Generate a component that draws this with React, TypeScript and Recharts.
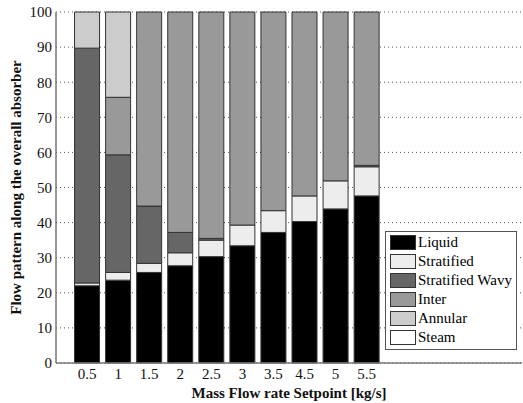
import React from 'react';
import { BarChart, Bar, XAxis, YAxis, CartesianGrid, Legend } from 'recharts';

const categories = ['0.5', '1', '1.5', '2', '2.5', '3', '3.5', '4.5', '5', '5.5'];
const liquid = [22.0, 23.6, 25.8, 27.7, 30.3, 33.4, 37.2, 40.3, 43.9, 47.6];
const stratified = [0.8, 2.2, 2.6, 3.7, 4.7, 5.9, 6.2, 7.3, 8.0, 8.3];
const stratifiedWavy = [66.9, 33.5, 16.3, 5.8, 0.5, 0, 0, 0, 0, 0.4];
const inter = [0, 16.4, 55.3, 62.8, 64.5, 60.7, 56.6, 52.4, 48.1, 43.7];
const annular = [10.3, 24.3, 0, 0, 0, 0, 0, 0, 0, 0];
const steam = [0, 0, 0, 0, 0, 0, 0, 0, 0, 0];
const yTicks = [0, 10, 20, 30, 40, 50, 60, 70, 80, 90, 100];

const series = [
  { key: 'liquid', name: 'Liquid', color: '#000000', values: liquid },
  { key: 'stratified', name: 'Stratified', color: '#ededed', values: stratified },
  { key: 'stratifiedWavy', name: 'Stratified Wavy', color: '#666666', values: stratifiedWavy },
  { key: 'inter', name: 'Inter', color: '#999999', values: inter },
  { key: 'annular', name: 'Annular', color: '#cccccc', values: annular },
  { key: 'steam', name: 'Steam', color: '#ffffff', values: steam },
];

const data = categories.map((c, i) => {
  const row: any = { x: i + 1, label: c };
  series.forEach((s) => {
    row[s.key] = s.values[i];
  });
  return row;
});

const FONT = '"Liberation Serif", "Times New Roman", serif';

const LegendBox = () => (
  <div
    style={{
      border: '1px solid #555',
      background: '#fff',
      padding: '1px 0 2px 4px',
      fontFamily: FONT,
      fontSize: 15,
      color: '#000',
      width: 126,
      height: 114,
      boxSizing: 'content-box',
      whiteSpace: 'nowrap',
    }}
  >
    {series.map((s) => (
      <div key={s.key} style={{ display: 'flex', alignItems: 'center', height: 19 }}>
        <div
          style={{
            width: 24,
            height: 13,
            background: s.color,
            border: '1px solid #333',
            marginRight: 2,
            flexShrink: 0,
          }}
        />
        <span>{s.name}</span>
      </div>
    ))}
  </div>
);

export default function App() {
  return (
    <div style={{ position: 'absolute', left: 0, top: 0, width: 523, height: 403, background: '#fff' }}>
      <BarChart
        width={523}
        height={403}
        data={data}
        margin={{ top: 12, right: 1, bottom: 0, left: 0 }}
        style={{ fontFamily: FONT }}
      >
        <CartesianGrid
          horizontal={true}
          vertical={false}
          stroke="#555"
          strokeDasharray="1 3"
        />
        <XAxis
          dataKey="x"
          type="number"
          domain={[0, 15]}
          ticks={[1, 2, 3, 4, 5, 6, 7, 8, 9, 10]}
          tickFormatter={(v: number) => categories[v - 1] ?? ''}
          interval={0}
          height={40}
          tickSize={3}
          tickMargin={2}
          tickLine={false}
          axisLine={{ stroke: '#777', strokeWidth: 1.5 }}
          tick={{ fontSize: 15, fill: '#111', fontFamily: FONT }}
          label={{
            value: 'Mass Flow rate Setpoint [kg/s]',
            position: 'insideBottom',
            offset: 5,
            style: { fontSize: 15, fontWeight: 'bold', fill: '#111', fontFamily: FONT },
          }}
        />
        <XAxis
          xAxisId="top"
          dataKey="x"
          type="number"
          domain={[0, 15]}
          orientation="top"
          height={0}
          tick={false}
          tickLine={false}
          axisLine={{ stroke: '#777', strokeWidth: 1.5 }}
        />
        <YAxis
          domain={[0, 100]}
          ticks={yTicks}
          interval={0}
          width={56}
          tickSize={3}
          tickMargin={1}
          tickLine={false}
          axisLine={{ stroke: '#777', strokeWidth: 1.5 }}
          tick={{ fontSize: 15, fill: '#111', fontFamily: FONT }}
          label={{
            value: 'Flow pattern along the overall absorber',
            angle: -90,
            position: 'insideLeft',
            offset: 16,
            style: { textAnchor: 'middle', fontSize: 15, fontWeight: 'bold', fill: '#111', fontFamily: FONT },
          }}
        />
        <YAxis
          yAxisId="right"
          orientation="right"
          domain={[0, 100]}
          width={0}
          tick={false}
          tickLine={false}
          axisLine={{ stroke: '#777', strokeWidth: 1.5 }}
        />
        {series.map((s) => (
          <Bar
            key={s.key}
            dataKey={s.key}
            name={s.name}
            stackId="a"
            fill={s.color}
            stroke="#333"
            strokeWidth={1}
            barSize={25}
            isAnimationActive={false}
          />
        ))}
        <Legend
          layout="vertical"
          align="center"
          verticalAlign="middle"
          content={() => <LegendBox />}
          wrapperStyle={{ position: 'absolute', left: 385, top: 231, width: 132, height: 118 }}
        />
      </BarChart>
    </div>
  );
}
